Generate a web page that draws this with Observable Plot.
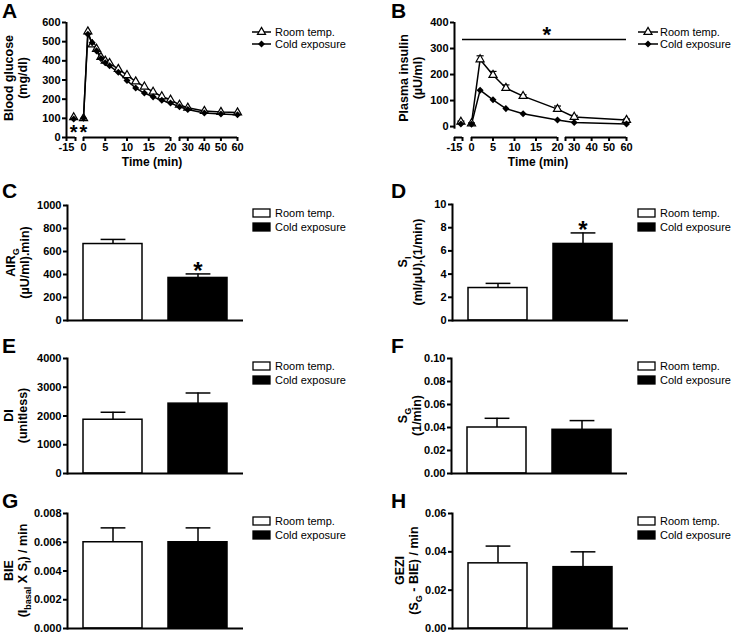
<!DOCTYPE html>
<html><head><meta charset="utf-8">
<script src="https://cdn.jsdelivr.net/npm/d3@7"></script>
<script src="https://cdn.jsdelivr.net/npm/@observablehq/plot@0.6"></script>
<style>
body{margin:0;background:#fff;}
#fig{position:relative;width:731px;height:634px;overflow:hidden;background:#fff;}
</style></head><body><div id="fig"></div><script>
// ---------- data ----------
const groups = ["Room temp.", "Cold exposure"];
const fills = ["white", "black"];

// Panel A: blood glucose (mg/dl)
const timeA = [-11, 0, 1, 2, 3, 4, 5, 6, 8, 10, 12, 14, 16, 18, 20, 25, 30, 40, 50, 60];
const glucoseRoom = [105, 100, 553, 485, 462, 420, 400, 388, 357, 325, 292, 265, 238, 214, 197, 170, 155, 138, 133, 130];
const glucoseCold = [97, 100, 539, 495, 452, 412, 390, 374, 340, 297, 258, 232, 212, 194, 180, 160, 146, 128, 123, 119];
const glucoseTicks = [0, 100, 200, 300, 400, 500, 600];
const glucoseStarTimes = [-11, 0];
const glucoseStarLevels = [100, 100];

// Panel B: plasma insulin (µU/ml)
const timeB = [-11, 0, 2, 5, 8, 12, 20, 30, 60];
const insulinRoom = [18, 12, 258, 198, 148, 117, 67, 37, 25];
const insulinRoomSem = [3, 2, 14, 14, 12, 5, 12, 6, 4];
const insulinCold = [10, 9, 140, 103, 69, 49, 25, 16, 10];
const insulinTicks = [0, 100, 200, 300, 400];
const insulinFloor = -42;
const insulinSigSpan = [-10, 60];
const insulinSigLevel = 335;
const insulinSigStarTime = 17.5;

// Broken time axis
const timeBreaks = [-15, -10, 0, 20, 25, 60];
const timeSegments = [[-15, -10], [0, 20], [25, 60]];
const timeTicksLabeled = [-15, 0, 5, 10, 15, 20, 30, 40, 50, 60];
const timeTicksPlain = [-10, 25];

// Bar panels: mean and SEM for [Room temp., Cold exposure]
const airgMean = [665, 370], airgSem = [40, 35], airgSig = [false, true];
const airgTicks = [0, 200, 400, 600, 800, 1000];
const siMean = [2.8, 6.6], siSem = [0.4, 0.95], siSig = [false, true];
const siTicks = [0, 2, 4, 6, 8, 10];
const diMean = [1870, 2430], diSem = [260, 370];
const diTicks = [0, 1000, 2000, 3000, 4000];
const sgMean = [0.040, 0.038], sgSem = [0.008, 0.008];
const sgTicks = [0, 0.02, 0.04, 0.06, 0.08, 0.10];
const bieMean = [0.006, 0.006], bieSem = [0.001, 0.001];
const bieTicks = [0, 0.002, 0.004, 0.006, 0.008];
const geziMean = [0.034, 0.032], geziSem = [0.009, 0.008];
const geziTicks = [0, 0.02, 0.04, 0.06];

// ---------- helpers ----------
const FONT = 'Arial, "Liberation Sans", Helvetica, sans-serif';
const fig = document.getElementById("fig");
const capSymbol = {draw(ctx, size) { const w = Math.sqrt(size) / 2; ctx.moveTo(-w, 0); ctx.lineTo(w, 0); }};
const baseStyle = {fontFamily: FONT, fontSize: "11px", fontWeight: "bold", color: "black", background: "white"};

function place(svg, left, top) {
  svg.style.position = "absolute";
  svg.style.left = left + "px";
  svg.style.top = top + "px";
  fig.appendChild(svg);
  return svg;
}

function richText(svg, x, y, parts, {size = 12, weight = "bold", rotate = 0, anchor = "middle", dy = null} = {}) {
  const t = d3.select(svg).append("text")
    .attr("transform", `translate(${x},${y})` + (rotate ? ` rotate(${rotate})` : ""))
    .attr("text-anchor", anchor).attr("font-family", FONT).attr("font-size", size)
    .attr("font-weight", weight).attr("fill", "black");
  if (dy) t.attr("dy", dy);
  let shift = 0;
  for (const p of [].concat(parts)) {
    const sp = t.append("tspan");
    if (typeof p === "string") { if (shift) sp.attr("dy", -shift); shift = 0; sp.text(p); }
    else { const s = size * 0.3; sp.attr("dy", s).attr("font-size", size * 0.72).text(p.sub); shift = s; }
  }
  return t;
}

function yTitle(svg, baselines, cy, lines) {
  lines.forEach((parts, i) => richText(svg, baselines[i], cy, parts, {size: 12.5, rotate: -90}));
}

function letter(svg, x, y, s) { richText(svg, x, y, s, {size: 21, anchor: "start"}); }

function lineLegend(svg, x0, x1, ys, tx) {
  const sel = d3.select(svg);
  const syms = [d3.symbol(d3.symbolTriangle, Math.PI * 9)(), d3.symbol(d3.symbolSquare, Math.PI * 2.8 * 2.8)()];
  groups.forEach((name, i) => {
    sel.append("line").attr("x1", x0).attr("x2", x1).attr("y1", ys[i]).attr("y2", ys[i])
      .attr("stroke", "black").attr("stroke-width", 1.5);
    sel.append("path").attr("d", syms[i])
      .attr("transform", `translate(${(x0 + x1) / 2},${ys[i]})` + (i ? " rotate(45)" : ""))
      .attr("fill", fills[i]).attr("stroke", i ? "none" : "black").attr("stroke-width", 1.2);
    richText(svg, tx, ys[i], name, {size: 11, weight: "normal", anchor: "start", dy: "0.35em"});
  });
}

function barLegend(svg, x, ys, tx) {
  const sel = d3.select(svg);
  groups.forEach((name, i) => {
    sel.append("rect").attr("x", x).attr("y", ys[i] - 4).attr("width", 17).attr("height", 8)
      .attr("fill", fills[i]).attr("stroke", "black").attr("stroke-width", 1.3);
    richText(svg, tx, ys[i], name, {size: 11, weight: "normal", anchor: "start", dy: "0.35em"});
  });
}

function timePanel(cfg) {
  const rows = [];
  cfg.time.forEach((t, i) => cfg.series.forEach((s, k) =>
    rows.push({t, g: groups[k], v: s[i], e: cfg.sem && cfg.sem[k] ? cfg.sem[k][i] : 0, seg: t < 0 ? "pre" : "post"})));
  const room = rows.filter(d => d.g === groups[0]);
  const cold = rows.filter(d => d.g === groups[1]);
  const errRows = rows.filter(d => d.e > 0);
  const r = cfg.range;
  const marks = [
    Plot.ruleX([timeBreaks[0]], {y1: () => cfg.yAxisFrom, y2: () => cfg.yTicks[cfg.yTicks.length - 1], strokeWidth: 2}),
    Plot.axisY({ticks: cfg.yTicks, tickFormat: d => String(d), tickSize: 4, tickPadding: 2, strokeWidth: 2, fontSize: 11, fontWeight: "bold", label: null}),
    Plot.ruleY(timeSegments, {x1: d => d[0], x2: d => d[1], y: () => cfg.yDomain[0], strokeWidth: 2}),
    Plot.axisX({ticks: timeTicksLabeled, tickFormat: d => String(d), tickSize: 4, tickPadding: 2, strokeWidth: 2, fontSize: 11, fontWeight: "bold", label: null}),
    Plot.axisX({ticks: timeTicksPlain, tickFormat: () => "", tickSize: 4, strokeWidth: 2, label: null}),
    Plot.ruleX(errRows, {x: "t", y1: "v", y2: d => d.v + d.e, strokeWidth: 1.2}),
    Plot.dot(errRows, {x: "t", y: d => d.v + d.e, symbol: capSymbol, r: 4, fill: "none", stroke: "black", strokeWidth: 1.2}),
    Plot.line(rows, {x: "t", y: "v", z: d => d.g + d.seg, stroke: "black", strokeWidth: 1.5}),
    Plot.dot(room, {x: "t", y: "v", symbol: "triangle", r: 3, fill: "white", stroke: "black", strokeWidth: 1.2}),
    Plot.dot(cold, {x: "t", y: "v", symbol: "square", rotate: 45, r: 2.8, fill: "black"})
  ];
  if (cfg.extra) marks.push(...cfg.extra);
  return Plot.plot({
    width: cfg.width, height: cfg.height,
    marginTop: cfg.mt, marginBottom: cfg.mb, marginLeft: r[0], marginRight: cfg.width - r[r.length - 1],
    style: baseStyle,
    x: {type: "linear", domain: timeBreaks, range: r},
    y: {domain: cfg.yDomain},
    marks
  });
}

function barPanel(cfg) {
  const rows = groups.map((g, i) => ({g, v: cfg.mean[i], e: cfg.sem[i], sig: cfg.sig ? cfg.sig[i] : false}));
  return Plot.plot({
    width: cfg.width, height: cfg.height,
    marginTop: cfg.mt, marginBottom: cfg.mb, marginLeft: cfg.ml, marginRight: cfg.width - cfg.ml - 176,
    style: baseStyle,
    x: {domain: groups, paddingInner: 0.31, paddingOuter: 0.18, axis: null},
    y: {domain: [0, cfg.ticks[cfg.ticks.length - 1]]},
    marks: [
      Plot.ruleX(rows, {x: "g", y1: "v", y2: d => d.v + d.e, strokeWidth: 1.5}),
      Plot.dot(rows, {x: "g", y: d => d.v + d.e, symbol: capSymbol, r: 14, fill: "none", stroke: "black", strokeWidth: 1.5}),
      Plot.barY(rows.filter(d => d.g === groups[0]), {x: "g", y: "v", fill: fills[0], stroke: "black", strokeWidth: 1.5}),
      Plot.barY(rows.filter(d => d.g === groups[1]), {x: "g", y: "v", fill: fills[1], stroke: "black", strokeWidth: 1.5}),
      Plot.axisY({ticks: cfg.ticks, tickFormat: cfg.fmt, tickSize: 4, tickPadding: 2, strokeWidth: 2, fontSize: 11, fontWeight: "bold", label: null}),
      Plot.frame({anchor: "left", strokeWidth: 2}),
      Plot.ruleY([0], {strokeWidth: 2}),
      Plot.text(rows.filter(d => d.sig), {x: "g", y: d => d.v + d.e, text: () => "*", dy: -3, fontSize: 24, fontWeight: "bold"})
    ]
  });
}

// ---------- Panel A ----------
const svgA = place(timePanel({
  width: 365, height: 180, mt: 22, mb: 43, range: [66, 75, 83, 170, 179, 237],
  time: timeA, series: [glucoseRoom, glucoseCold], yDomain: [0, 600], yTicks: glucoseTicks, yAxisFrom: 0,
  extra: [Plot.text(glucoseStarTimes, {x: d => d, y: (d, i) => glucoseStarLevels[i], text: () => "*", dy: 14, fontSize: 20, fontWeight: "bold"})]
}), 0, 0);
letter(svgA, 2, 18, "A");
yTitle(svgA, [12.5, 26.5], 78, [["Blood glucose"], ["(mg/dl)"]]);
richText(svgA, 152, 166, "Time (min)", {size: 12});
lineLegend(svgA, 252, 271, [32, 44], 275);

// ---------- Panel B ----------
const svgB = place(timePanel({
  width: 366, height: 180, mt: 22, mb: 43, range: [89, 97, 106, 192, 200, 261],
  time: timeB, series: [insulinRoom, insulinCold], sem: [insulinRoomSem, null],
  yDomain: [insulinFloor, 400], yTicks: insulinTicks, yAxisFrom: -10,
  extra: [
    Plot.ruleY([insulinSigLevel], {x1: () => insulinSigSpan[0], x2: () => insulinSigSpan[1], strokeWidth: 1.5}),
    Plot.text([insulinSigStarTime], {x: d => d, y: () => insulinSigLevel, text: () => "*", dy: -4, fontSize: 22, fontWeight: "bold"})
  ]
}), 365, 0);
letter(svgB, 26, 18, "B");
yTitle(svgB, [43, 57], 78, [["Plasma insulin"], ["(µU/ml)"]]);
richText(svgB, 173, 166, "Time (min)", {size: 12});
lineLegend(svgB, 273, 293, [32, 44], 295);

// ---------- Bar panels ----------
const f0 = d => String(d);
const f2 = d3.format(".2f"), f3 = d3.format(".3f");
const barCfgs = [
  {id: "C", left: 0, top: 180, height: 150, mt: 25, mb: 10, ml: 67, mean: airgMean, sem: airgSem, sig: airgSig, ticks: airgTicks, fmt: f0,
   title: [["AIR", {sub: "G"}], ["(µU/ml).min)"]], tb: [15, 29], ly: 18},
  {id: "D", left: 365, top: 180, height: 150, mt: 24, mb: 10, ml: 87, mean: siMean, sem: siSem, sig: siSig, ticks: siTicks, fmt: f0,
   title: [["S", {sub: "I"}], ["(ml/µU).(1/min)"]], tb: [42, 57], ly: 18},
  {id: "E", left: 0, top: 333, height: 150, mt: 25, mb: 10, ml: 67, mean: diMean, sem: diSem, ticks: diTicks, fmt: f0,
   title: [["DI"], ["(unitless)"]], tb: [13, 27], ly: 20},
  {id: "F", left: 365, top: 333, height: 150, mt: 25, mb: 10, ml: 86, mean: sgMean, sem: sgSem, ticks: sgTicks, fmt: f2,
   title: [["S", {sub: "G"}], ["(1/min)"]], tb: [42, 56], ly: 20},
  {id: "G", left: 0, top: 488, height: 146, mt: 25, mb: 6, ml: 67, mean: bieMean, sem: bieSem, ticks: bieTicks, fmt: f3,
   title: [["BIE"], ["(I", {sub: "basal"}, " X S", {sub: "I"}, ") / min"]], tb: [13, 27], ly: 20},
  {id: "H", left: 365, top: 488, height: 146, mt: 25, mb: 6, ml: 87, mean: geziMean, sem: geziSem, ticks: geziTicks, fmt: f2,
   title: [["GEZI"], ["(S", {sub: "G"}, " - BIE) / min"]], tb: [39, 53], ly: 20}
];
for (const c of barCfgs) {
  const w = c.left ? 366 : 365;
  const svg = place(barPanel({...c, width: w}), c.left, c.top);
  const right = c.left !== 0;
  letter(svg, right ? 26 : 2, c.ly, c.id);
  yTitle(svg, c.tb, c.mt + (c.height - c.mt - c.mb) / 2, c.title);
  barLegend(svg, right ? 273 : 253, [33, 47], right ? 295 : 275);
}
</script></body></html>
